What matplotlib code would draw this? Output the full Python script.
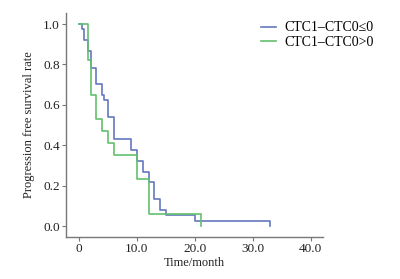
import matplotlib
matplotlib.use("Agg")
import matplotlib.pyplot as plt

# Kaplan-Meier style curves
time_neg = [0, 0.5, 0.9, 1.5, 2, 3, 4, 4.4, 5, 6, 9, 10, 11, 12, 13, 14, 15, 20, 33]
surv_neg = [1.0, 0.973, 0.919, 0.865, 0.784, 0.703, 0.649, 0.622, 0.541, 0.432,
            0.378, 0.324, 0.270, 0.216, 0.135, 0.081, 0.054, 0.027, 0.0]
time_pos = [0, 1.5, 2, 3, 4, 5, 6, 10, 12, 21]
surv_pos = [1.0, 0.824, 0.647, 0.529, 0.471, 0.412, 0.353, 0.235, 0.059, 0.0]

labels = ["CTC1\u2013CTC0\u22640", "CTC1\u2013CTC0>0"]
xticks = [0, 10, 20, 30, 40]
xtick_labels = ["0", "10.0", "20.0", "30.0", "40.0"]
yticks = [0.0, 0.2, 0.4, 0.6, 0.8, 1.0]

plt.rcParams['font.family'] = ['Liberation Serif', 'DejaVu Serif', 'DejaVu Sans']

fig = plt.figure(figsize=(4, 2.79), dpi=100)
ax = fig.add_axes([0.165, 0.1505, 0.6425, 0.8025])

ax.step(time_neg, surv_neg, where='post', color='#6478bd', lw=1.2, label=labels[0])
ax.step(time_pos, surv_pos, where='post', color='#62c06e', lw=1.2, label=labels[1])

ax.set_xlim(-2.24, 42.1)
ax.set_ylim(-0.054, 1.054)
ax.set_xticks(xticks, labels=xtick_labels)
ax.set_yticks(yticks, labels=[f"{v:.1f}" for v in yticks])

for s in ['top', 'right']:
    ax.spines[s].set_visible(False)
for s in ['left', 'bottom']:
    ax.spines[s].set_color('#777777')
    ax.spines[s].set_linewidth(1.0)
ax.tick_params(colors='#777777', labelcolor='#222222', labelsize=9.5, length=3, width=0.8, pad=1.5)

ax.set_xlabel('Time/month', fontsize=9, color='#222222', labelpad=1)
ax.set_ylabel('Progression free survival rate', fontsize=9, color='#222222', labelpad=6)

ax.legend(loc='upper left', bbox_to_anchor=(0.725, 1.0), frameon=False, fontsize=10,
          handlelength=1.1, handletextpad=0.6, labelspacing=0.1, borderaxespad=0.2)

fig.savefig('out.png', dpi=100)
